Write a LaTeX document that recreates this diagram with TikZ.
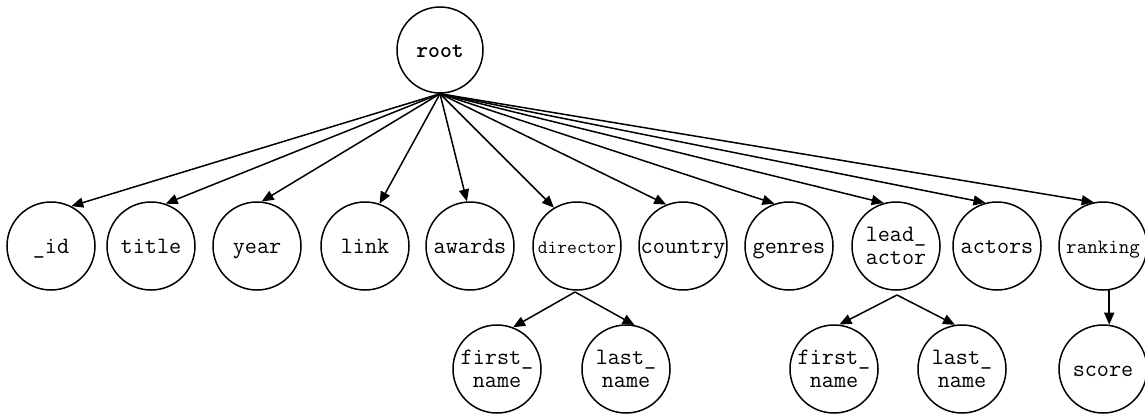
\documentclass[tikz,border=0pt]{standalone}
\usepackage{fontspec}
\usetikzlibrary{arrows.meta}
\tikzset{
  fld/.style={circle, draw, line width=1.5pt, minimum size=88pt, inner sep=0pt,
    align=center, font=\ttfamily\fontsize{23.5}{23}\selectfont},
  one/.style={text height=14pt, text depth=0pt},
  edge/.style={line width=1.5pt, -{Triangle[length=12pt,width=10pt]}},
}
\begin{document}
\begin{tikzpicture}[x=1pt,y=-1pt]
\useasboundingbox (0,0) rectangle (1145,418);

% document root
\node[fld, one, minimum size=86pt, font=\ttfamily\bfseries\fontsize{22.5}{23}\selectfont] (root) at (440,50) {root};

% top-level fields
\node[fld, one] (id)       at (51,246)   {\_id};
\node[fld, one] (title)    at (151,246)  {title};
\node[fld, one] (year)     at (257,246)  {year};
\node[fld, one] (link)     at (365,246)  {link};
\node[fld, one] (awards)   at (470,246)  {awards};
\node[fld, one, font=\ttfamily\fontsize{19}{23}\selectfont] (director) at (577,246) {director};
\node[fld, one] (country)  at (683,246)  {country};
\node[fld, one] (genres)   at (789,246)  {genres};
\node[fld] (lead)     at (896,246)  {lead\_\\actor};
\node[fld, one] (actors)   at (997,246)  {actors};
\node[fld, one, font=\ttfamily\fontsize{20.4}{23}\selectfont] (ranking) at (1103,246) {ranking};

% nested fields
\node[fld] (dfirst) at (497,369)  {first\_\\name};
\node[fld] (dlast)  at (626,369)  {last\_\\name};
\node[fld] (lfirst) at (834,369)  {first\_\\name};
\node[fld] (llast)  at (962,369)  {last\_\\name};
\node[fld, one] (score)  at (1103,369) {score};

% branching points below the embedded documents
\coordinate (dsplit) at (575,292);
\coordinate (lsplit) at (897,295);

% root to top-level fields
\draw[edge] (root.south) -- (id.63);
\draw[edge] (root.south) -- (title.71);
\draw[edge] (root.south) -- (year.84);
\draw[edge] (root.south) -- (link.71);
\draw[edge] (root.south) -- (awards.94);
\draw[edge] (root.south) -- (director.121);
\draw[edge] (root.south) -- (country.112);
\draw[edge] (root.south) -- (genres.109);
\draw[edge] (root.south) -- (lead.106);
\draw[edge] (root.south) -- (actors.105);
\draw[edge] (root.south) -- (ranking.102);

% embedded documents to their fields
\draw[edge] (dsplit) -- (dfirst.69);
\draw[edge] (dsplit) -- (dlast.79);
\draw[edge] (lsplit) -- (lfirst.83);
\draw[edge] (lsplit) -- (llast.99);
\draw[edge] (ranking.-82) -- (score.82);
\end{tikzpicture}
\end{document}
